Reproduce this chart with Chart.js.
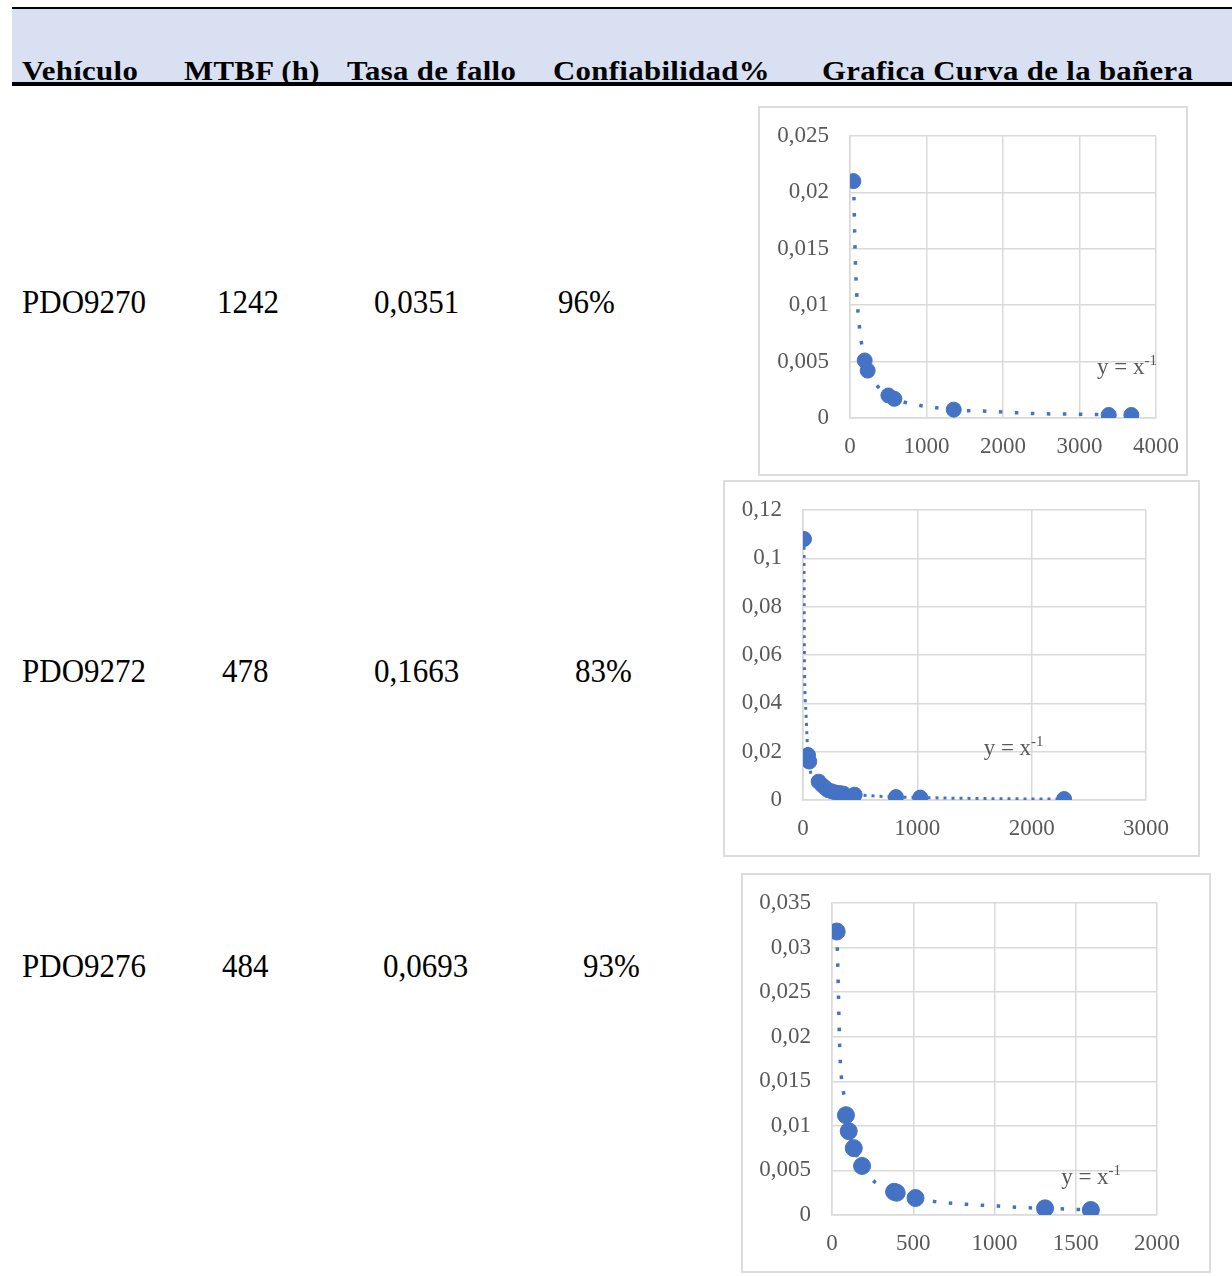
<!DOCTYPE html>
<html>
<head>
<meta charset="utf-8">
<script src="https://cdn.jsdelivr.net/npm/chart.js@4.4.1/dist/chart.umd.min.js"></script>
<style>
    body { margin: 0; background: #fff; width: 1232px; height: 1276px; position: relative; overflow: hidden; }
    .band { position: absolute; left: 12px; top: 9px; width: 1220px; height: 73px; background: #d9e0f1; }
    .topline { position: absolute; left: 12px; top: 7px; width: 1220px; height: 2px; background: #000; }
    .botline { position: absolute; left: 12px; top: 82px; width: 1220px; height: 4px; background: #000; }
    .txt { position: absolute; font-family: "Liberation Serif", "Times New Roman", serif; color: #000; white-space: nowrap; }
    .head { font-size: 28px; line-height: 28px; font-weight: bold; letter-spacing: 0.3px; transform: scaleX(1.1); transform-origin: 0 80%; }
    .cell { font-size: 31px; line-height: 31px; transform: scaleY(1.07); transform-origin: 0 80%; }
    .box { position: absolute; border: 2px solid #dcdcdc; }
    .box canvas { display: block; }
</style>
</head>
<body>
<div class="band"></div>
<div class="topline"></div>
<div class="botline"></div>
<div id="table"></div>
<div class="box" style="left:758px; top:106px;"><canvas id="chart1" width="426" height="366"></canvas></div>
<div class="box" style="left:723px; top:480px;"><canvas id="chart2" width="473" height="373"></canvas></div>
<div class="box" style="left:741px; top:873px;"><canvas id="chart3" width="466" height="396"></canvas></div>

<script>
// table
const headers = ['Vehículo', 'MTBF (h)', 'Tasa de fallo', 'Confiabilidad%', 'Grafica Curva de la bañera'];
const vehicles = ['PDO9270', 'PDO9272', 'PDO9276'];
const mtbf = ['1242', '478', '484'];
const failRate = ['0,0351', '0,1663', '0,0693'];
const reliability = ['96%', '83%', '93%'];

// chart 1 - PDO9270
const x1 = [44, 192, 231, 502, 580, 1356, 3382, 3678];
const y1 = [0.0210, 0.0051, 0.0042, 0.0020, 0.0017, 0.00074, 0.00027, 0.00027];
const trend1X = [44, 52, 61, 70, 88, 123, 149, 192, 231, 362, 502, 580, 711, 920, 1133, 1356, 1800, 2400, 3000, 3382];
const trend1Y = [0.0210, 0.0195, 0.0165, 0.0139, 0.0110, 0.0081, 0.0067, 0.0051, 0.0042, 0.0028, 0.0020, 0.0017, 0.0014, 0.0011, 0.0009, 0.0007, 0.0006, 0.0004, 0.00033, 0.0003];
const xTicks1 = [0, 1000, 2000, 3000, 4000];
const yTicks1 = [0, 0.005, 0.01, 0.015, 0.02, 0.025];

// chart 2 - PDO9272
const x2 = [9, 44, 55, 137, 166, 190, 218, 250, 283, 320, 356, 452, 813, 1025, 2284];
const y2 = [0.108, 0.0186, 0.0159, 0.0076, 0.0062, 0.0052, 0.0041, 0.0036, 0.0031, 0.0029, 0.0026, 0.0022, 0.0012, 0.0010, 0.0004];
const trend2X = [9, 10, 12, 17, 26, 35, 44, 55, 73, 137, 166, 218, 283, 356, 452, 618, 813, 1025, 1400, 1800, 2284];
const trend2Y = [0.108, 0.080, 0.060, 0.045, 0.036, 0.026, 0.0186, 0.0159, 0.0097, 0.0076, 0.0062, 0.0041, 0.0031, 0.0026, 0.0022, 0.0017, 0.0012, 0.0010, 0.0007, 0.0005, 0.0004];
const xTicks2 = [0, 1000, 2000, 3000];
const yTicks2 = [0, 0.02, 0.04, 0.06, 0.08, 0.1, 0.12];

// chart 3 - PDO9276
const x3 = [29, 86, 103, 134, 185, 382, 398, 514, 1311, 1593];
const y3 = [0.0318, 0.0112, 0.0094, 0.0075, 0.0055, 0.0026, 0.0025, 0.0019, 0.00075, 0.00056];
const trend3X = [29, 33, 40, 47, 58, 72, 86, 103, 134, 185, 263, 382, 514, 633, 829, 1024, 1219, 1311, 1593];
const trend3Y = [0.0318, 0.0298, 0.0244, 0.0190, 0.0154, 0.0136, 0.0112, 0.0094, 0.0075, 0.0055, 0.0037, 0.0026, 0.0019, 0.0015, 0.0012, 0.0010, 0.0008, 0.00075, 0.00056];
const xTicks3 = [0, 500, 1000, 1500, 2000];
const yTicks3 = [0, 0.005, 0.01, 0.015, 0.02, 0.025, 0.03, 0.035];

const blue = '#4472c4';
const serif = '"Liberation Serif", "Times New Roman", serif';

// --- table text ---
const table = document.getElementById('table');
function addText(str, left, top, cls) {
    const d = document.createElement('div');
    d.className = 'txt ' + cls;
    d.textContent = str;
    d.style.left = left + 'px';
    d.style.top = top + 'px';
    table.appendChild(d);
}
const headLeft = [22, 184, 347, 553, 822];
headers.forEach((h, i) => addText(h, headLeft[i], 57, 'head'));

const rowTop = [287, 656, 951];
const mtbfLeft = [217, 222, 222];
const rateLeft = [374, 374, 383];
const relLeft = [558, 575, 583];
vehicles.forEach((v, i) => {
    addText(v, 22, rowTop[i], 'cell');
    addText(mtbf[i], mtbfLeft[i], rowTop[i], 'cell');
    addText(failRate[i], rateLeft[i], rowTop[i], 'cell');
    addText(reliability[i], relLeft[i], rowTop[i], 'cell');
});

// --- charts ---
function toPoints(xs, ys) {
    return xs.map((x, i) => ({ x: x, y: ys[i] }));
}

function fmt(v) {
    return String(+v.toFixed(4)).replace('.', ',');
}

function noPadding(s) {
    s.paddingTop = 0;
    s.paddingBottom = 0;
    s.paddingLeft = 0;
    s.paddingRight = 0;
}

const equationLabel = {
    id: 'equationLabel',
    afterDatasetsDraw(chart, args, opts) {
        const ctx = chart.ctx;
        const px = chart.scales.x.getPixelForValue(opts.x);
        const py = chart.scales.y.getPixelForValue(opts.y);
        ctx.save();
        ctx.fillStyle = '#595959';
        ctx.textBaseline = 'alphabetic';
        ctx.textAlign = 'left';
        ctx.font = '23px ' + serif;
        const main = 'y = x';
        ctx.fillText(main, px, py);
        const w = ctx.measureText(main).width;
        ctx.font = '15px ' + serif;
        ctx.fillText('-1', px + w, py - 9);
        ctx.restore();
    }
};

function makeChart(id, cfg) {
    const tickFont = { family: serif, size: 23 };
    return new Chart(document.getElementById(id), {
        type: 'scatter',
        data: {
            datasets: [
                {
                    data: toPoints(cfg.xs, cfg.ys),
                    backgroundColor: blue,
                    borderColor: blue,
                    borderWidth: 1,
                    pointRadius: cfg.radius,
                    pointHoverRadius: cfg.radius,
                    order: 1
                },
                {
                    data: toPoints(cfg.tx, cfg.ty),
                    showLine: true,
                    borderColor: blue,
                    borderWidth: cfg.dotWidth,
                    borderDash: cfg.dash,
                    cubicInterpolationMode: 'monotone',
                    pointRadius: 0,
                    order: 2
                }
            ]
        },
        options: {
            responsive: false,
            animation: false,
            layout: { padding: { top: 28, right: cfg.right, left: 0, bottom: 0 } },
            plugins: {
                legend: { display: false },
                tooltip: { enabled: false },
                equationLabel: { x: cfg.labelX, y: cfg.labelY }
            },
            scales: {
                x: {
                    type: 'linear',
                    min: cfg.xTicks[0],
                    max: cfg.xTicks[cfg.xTicks.length - 1],
                    afterBuildTicks: s => { s.ticks = cfg.xTicks.map(v => ({ value: v })); },
                    afterFit: s => { s.height = cfg.bottom; noPadding(s); },
                    grid: { color: '#d9d9d9', lineWidth: 1.5, drawTicks: false },
                    border: { color: '#d9d9d9', width: 1.5 },
                    ticks: { font: tickFont, color: '#595959', padding: 15, maxRotation: 0, callback: v => fmt(v) }
                },
                y: {
                    type: 'linear',
                    min: cfg.yTicks[0],
                    max: cfg.yTicks[cfg.yTicks.length - 1],
                    afterBuildTicks: s => { s.ticks = cfg.yTicks.map(v => ({ value: v })); },
                    afterFit: s => { s.width = cfg.left; noPadding(s); },
                    grid: { color: '#d9d9d9', lineWidth: 1.5, drawTicks: false },
                    border: { color: '#d9d9d9', width: 1.5 },
                    ticks: { font: tickFont, color: '#595959', padding: 21, callback: v => fmt(v) }
                }
            }
        },
        plugins: [equationLabel]
    });
}

makeChart('chart1', {
    xs: x1, ys: y1, tx: trend1X, ty: trend1Y, xTicks: xTicks1, yTicks: yTicks1,
    left: 90, right: 30, bottom: 56, radius: 7.5, dotWidth: 3.5, dash: [3.5, 12.5],
    labelX: 3229, labelY: 0.0039
});
makeChart('chart2', {
    xs: x2, ys: y2, tx: trend2X, ty: trend2Y, xTicks: xTicks2, yTicks: yTicks2,
    left: 78, right: 52, bottom: 55, radius: 7.5, dotWidth: 3, dash: [3, 5],
    labelX: 1580, labelY: 0.0186
});
makeChart('chart3', {
    xs: x3, ys: y3, tx: trend3X, ty: trend3Y, xTicks: xTicks3, yTicks: yTicks3,
    left: 89, right: 52, bottom: 56, radius: 8.5, dotWidth: 3.5, dash: [3.5, 12.5],
    labelX: 1410, labelY: 0.00348
});
</script>
</body>
</html>
